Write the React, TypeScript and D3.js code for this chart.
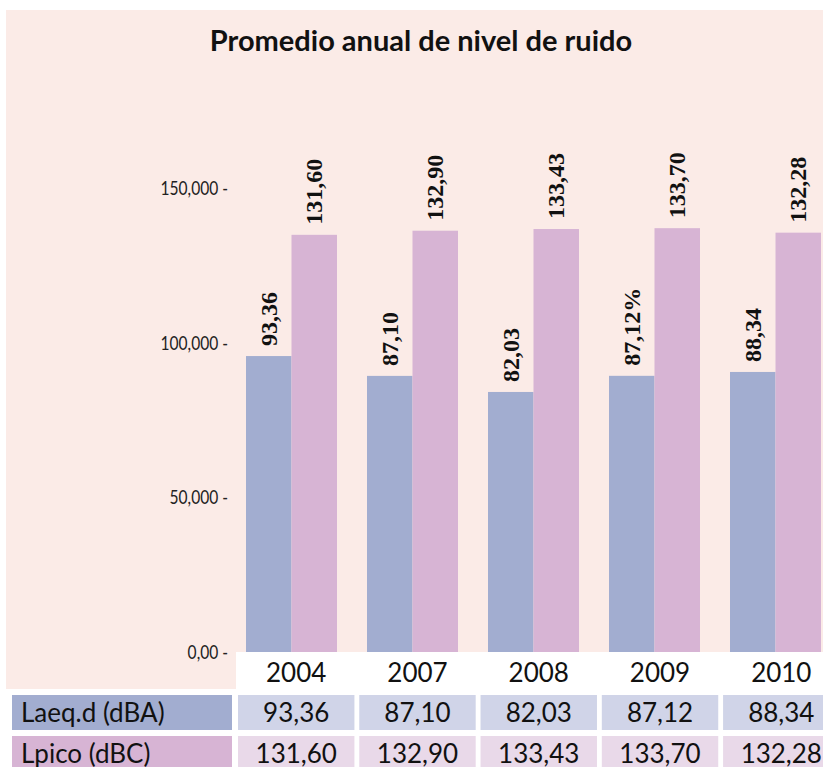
import React from "react";
import * as d3 from "d3";

const title = "Promedio anual de nivel de ruido";
const years = ["2004", "2007", "2008", "2009", "2010"];
const laeq = [93.36, 87.1, 82.03, 87.12, 88.34];
const lpico = [131.6, 132.9, 133.43, 133.7, 132.28];
const laeqLabels = ["93,36", "87,10", "82,03", "87,12%", "88,34"];
const lpicoLabels = ["131,60", "132,90", "133,43", "133,70", "132,28"];
const laeqTable = ["93,36", "87,10", "82,03", "87,12", "88,34"];
const lpicoTable = ["131,60", "132,90", "133,43", "133,70", "132,28"];
const seriesNames = ["Laeq.d (dBA)", "Lpico (dBC)"];
const axisTicks = [0, 50000, 100000, 150000];
const axisTickLabels = ["0,00", "50,000", "100,000", "150,000"];

const BLUE = "#a2add0";
const PINK = "#d7b4d4";
const BG = "#fbebe7";
const BLUE_LIGHT = "#d0d4e8";
const PINK_LIGHT = "#e9d9e9";

export default function App() {
  const W = 823;
  const H = 767;
  const base = 652;

  const yAxis = d3.scaleLinear().domain([0, 150000]).range([base, 188]);
  const yBar = d3.scaleLinear().domain([0, 150]).range([base, 176.5]);

  const x = d3.scaleBand().domain(years).range([246, 821]).paddingInner(0.248).paddingOuter(0);
  const xs = d3.scaleBand().domain(["laeq", "lpico"]).range([0, x.bandwidth()]).padding(0);

  const cols = d3.scaleBand().domain(years).range([238, 238 + 5 * 120.3]).paddingInner(0.04).paddingOuter(0);

  const sansFont = "Lato, 'Open Sans', sans-serif";
  const series = [
    { key: "laeq", values: laeq, labels: laeqLabels, color: BLUE },
    { key: "lpico", values: lpico, labels: lpicoLabels, color: PINK },
  ];
  const rows = [
    { name: seriesNames[0], vals: laeqTable, dark: BLUE, light: BLUE_LIGHT, y: 695 },
    { name: seriesNames[1], vals: lpicoTable, dark: PINK, light: PINK_LIGHT, y: 736 },
  ];

  return (
    <svg
      width={W}
      height={H}
      style={{ position: "absolute", left: 0, top: 0, display: "block", background: "#fff" }}
    >
      <rect x={6} y={10} width={W - 6} height={689 - 10} fill={BG} />
      <text
        x={421}
        y={51}
        textAnchor="middle"
        fontFamily={sansFont}
        fontWeight={700}
        fontSize={29}
        fill="#111"
      >
        {title}
      </text>

      {axisTicks.map((t, i) => (
        <g key={t} transform={`translate(228,${yAxis(t)}) scale(0.82,1)`}>
          <text
            textAnchor="end"
            dominantBaseline="central"
            fontFamily={sansFont}
            fontWeight={400}
            fontSize={19}
            fill="#222"
          >
            {axisTickLabels[i] + " -"}
          </text>
        </g>
      ))}

      {years.map((yr, i) => (
        <g key={yr} transform={`translate(${x(yr)},0)`}>
          {series.map((s) => {
            const bx = xs(s.key) as number;
            const top = yBar(s.values[i]);
            return (
              <g key={s.key}>
                <rect x={bx} y={top} width={xs.bandwidth()} height={base - top} fill={s.color} />
                <text
                  transform={`translate(${bx + xs.bandwidth() / 2},${top - 10}) rotate(-90)`}
                  dominantBaseline="central"
                  fontFamily="'Liberation Serif', 'Times New Roman', serif"
                  fontWeight={700}
                  fontSize={24}
                  fill="#111"
                >
                  {s.labels[i]}
                </text>
              </g>
            );
          })}
        </g>
      ))}

      <rect x={236} y={base} width={W - 236} height={689 - base} fill="#fff" />
      {years.map((yr) => (
        <text
          key={yr}
          x={(cols(yr) as number) + cols.bandwidth() / 2}
          y={682}
          textAnchor="middle"
          fontFamily={sansFont}
          fontSize={26}
          fill="#111"
        >
          {yr}
        </text>
      ))}

      {rows.map((r) => (
        <g key={r.name}>
          <rect x={12} y={r.y} width={220} height={35} fill={r.dark} />
          <text x={21} y={r.y + 27} fontFamily={sansFont} fontSize={26} fill="#111">
            {r.name}
          </text>
          {years.map((yr, i) => (
            <g key={yr}>
              <rect x={cols(yr) as number} y={r.y} width={cols.bandwidth()} height={35} fill={r.light} />
              <text
                x={(cols(yr) as number) + cols.bandwidth() / 2}
                y={r.y + 27}
                textAnchor="middle"
                fontFamily={sansFont}
                fontSize={26}
                fill="#111"
              >
                {r.vals[i]}
              </text>
            </g>
          ))}
        </g>
      ))}
    </svg>
  );
}
